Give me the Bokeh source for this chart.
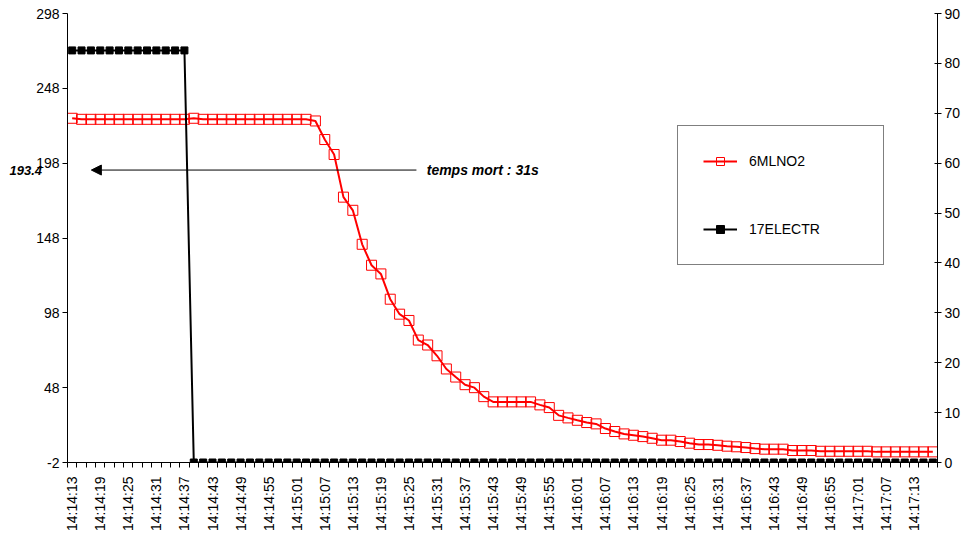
import math
from bokeh.plotting import figure
from bokeh.models import (Range1d, LinearAxis, FixedTicker, Legend, LegendItem,
                          Label, Arrow, NormalHead)
from bokeh.embed import file_html
from bokeh.resources import INLINE

# ---------------- data ----------------
times = [
    "14:14:13", "14:14:15", "14:14:17", "14:14:19", "14:14:21", "14:14:23",
    "14:14:25", "14:14:27", "14:14:29", "14:14:31", "14:14:33", "14:14:35",
    "14:14:37", "14:14:39", "14:14:41", "14:14:43", "14:14:45", "14:14:47",
    "14:14:49", "14:14:51", "14:14:53", "14:14:55", "14:14:57", "14:14:59",
    "14:15:01", "14:15:03", "14:15:05", "14:15:07", "14:15:09", "14:15:11",
    "14:15:13", "14:15:15", "14:15:17", "14:15:19", "14:15:21", "14:15:23",
    "14:15:25", "14:15:27", "14:15:29", "14:15:31", "14:15:33", "14:15:35",
    "14:15:37", "14:15:39", "14:15:41", "14:15:43", "14:15:45", "14:15:47",
    "14:15:49", "14:15:51", "14:15:53", "14:15:55", "14:15:57", "14:15:59",
    "14:16:01", "14:16:03", "14:16:05", "14:16:07", "14:16:09", "14:16:11",
    "14:16:13", "14:16:15", "14:16:17", "14:16:19", "14:16:21", "14:16:23",
    "14:16:25", "14:16:27", "14:16:29", "14:16:31", "14:16:33", "14:16:35",
    "14:16:37", "14:16:39", "14:16:41", "14:16:43", "14:16:45", "14:16:47",
    "14:16:49", "14:16:51", "14:16:53", "14:16:55", "14:16:57", "14:16:59",
    "14:17:01", "14:17:03", "14:17:05", "14:17:07", "14:17:09", "14:17:11",
    "14:17:13", "14:17:15", "14:17:17",
]

no2 = [
    228.0, 227.3, 227.3, 227.3, 227.3, 227.3, 227.3, 227.3, 227.3, 227.3,
    227.3, 227.3, 227.3, 228.0, 227.3, 227.3, 227.3, 227.3, 227.3, 227.3,
    227.3, 227.3, 227.3, 227.3, 227.3, 227.3, 226.2, 213.8, 203.8, 175.3,
    166.5, 143.8, 129.8, 124.0, 107.1, 97.1, 92.9, 79.8, 76.5, 69.3,
    60.5, 55.1, 50.0, 48.0, 42.0, 38.5, 38.5, 38.5, 38.5, 38.5,
    36.5, 34.7, 29.5, 27.8, 26.2, 24.7, 23.8, 20.7, 18.7, 17.1,
    16.2, 15.3, 14.2, 12.9, 12.9, 12.0, 10.9, 10.0, 10.0, 9.5,
    8.9, 8.5, 8.0, 7.3, 6.9, 6.9, 6.9, 6.0, 6.0, 6.0,
    5.5, 5.5, 5.5, 5.5, 5.5, 5.5, 5.1, 5.1, 5.1, 5.1,
    5.1, 5.1, 5.1,
]

electr = [
    82.6, 82.6, 82.6, 82.6, 82.6, 82.6, 82.6, 82.6, 82.6, 82.6,
    82.6, 82.6, 82.6, 0, 0, 0, 0, 0, 0, 0,
    0, 0, 0, 0, 0, 0, 0, 0, 0, 0,
    0, 0, 0, 0, 0, 0, 0, 0, 0, 0,
    0, 0, 0, 0, 0, 0, 0, 0, 0, 0,
    0, 0, 0, 0, 0, 0, 0, 0, 0, 0,
    0, 0, 0, 0, 0, 0, 0, 0, 0, 0,
    0, 0, 0, 0, 0, 0, 0, 0, 0, 0,
    0, 0, 0, 0, 0, 0, 0, 0, 0, 0,
    0, 0, 0,
]

left_ticks = [-2, 48, 98, 148, 198, 248, 298]
right_ticks = [0, 10, 20, 30, 40, 50, 60, 70, 80, 90]
label_every = 3

dead_level = 193.4
dead_level_text = "193.4"
dead_text = "temps mort : 31s"
arrow_from = 37.3   # category position where the arrow starts
arrow_to = 2.55     # category position of the arrow tip
dead_text_pos = 38.4
dead_level_text_pos = -6.2

FONT = "Liberation Sans"

# positions at the centre of each category slot
xs = [i + 0.5 for i in range(len(times))]

p = figure(width=971, height=533, output_backend="svg", toolbar_location=None,
           x_range=Range1d(0, len(times)), y_range=Range1d(left_ticks[0], left_ticks[-1]),
           min_border_left=66, min_border_right=34, min_border_top=13,
           min_border_bottom=70)
p.extra_y_ranges = {"right": Range1d(right_ticks[0], right_ticks[-1])}
p.outline_line_color = None
p.xgrid.visible = False
p.ygrid.visible = False
p.background_fill_color = "white"
p.border_fill_color = "white"

# x axis
xa = p.xaxis[0]
lab_idx = list(range(0, len(times), label_every))
xa.ticker = FixedTicker(ticks=[xs[i] for i in lab_idx],
                        minor_ticks=list(range(0, len(times) + 1)))
xa.major_label_overrides = {xs[i]: times[i] for i in lab_idx}
xa.major_label_orientation = math.pi / 2
xa.major_tick_out = 0
xa.major_tick_in = 0
xa.minor_tick_out = 5
xa.minor_tick_in = 0
xa.major_label_standoff = 9
xa.axis_line_color = "black"
xa.minor_tick_line_color = "black"
xa.major_label_text_font = FONT
xa.major_label_text_font_size = "14px"
xa.major_label_text_color = "black"

# left axis
ya = p.yaxis[0]
ya.ticker = FixedTicker(ticks=left_ticks, minor_ticks=[])
ya.major_label_overrides = {t: str(t) for t in left_ticks}
ya.major_tick_out = 5
ya.major_tick_in = 0
ya.minor_tick_out = 0
ya.major_label_standoff = 3
ya.axis_line_color = "black"
ya.major_tick_line_color = "black"
ya.major_label_text_font = FONT
ya.major_label_text_font_size = "14px"
ya.major_label_text_color = "black"

# right axis
ra = LinearAxis(y_range_name="right",
                ticker=FixedTicker(ticks=right_ticks, minor_ticks=[]))
ra.major_tick_out = 4
ra.major_tick_in = 3
ra.minor_tick_out = 0
ra.major_label_standoff = 3
ra.axis_line_color = "black"
ra.major_tick_line_color = "black"
ra.major_label_text_font = FONT
ra.major_label_text_font_size = "14px"
ra.major_label_text_color = "black"
p.add_layout(ra, "right")

# series
r_line = p.line(xs, no2, line_color="#FF0000", line_width=2)
r_pts = p.scatter(xs, no2, marker="square", size=10, line_color="#FF0000",
                  fill_color=None, line_width=1)
b_line = p.line(xs, electr, y_range_name="right", line_color="black", line_width=2)
b_pts = p.scatter(xs, electr, y_range_name="right", marker="square", size=7,
                  line_color="black", fill_color="black")

# annotation: dead time
p.add_layout(Arrow(x_start=arrow_from, y_start=dead_level, x_end=arrow_to,
                   y_end=dead_level, line_color="black", line_width=1,
                   end=NormalHead(size=10, fill_color="black", line_color="black")))
p.add_layout(Label(x=dead_text_pos, y=dead_level, text=dead_text,
                   text_font=FONT, text_font_size="14px",
                   text_font_style="bold italic", text_baseline="middle",
                   text_color="black"))
p.add_layout(Label(x=dead_level_text_pos, y=dead_level, text=dead_level_text,
                   text_font=FONT, text_font_size="13px",
                   text_font_style="bold italic", text_baseline="middle",
                   text_color="black"), "left")

# legend
legend = Legend(items=[LegendItem(label="6MLNO2", renderers=[r_line, r_pts]),
                       LegendItem(label="17ELECTR", renderers=[b_line, b_pts])],
                location=(610, 197), margin=0, padding=25, spacing=48,
                glyph_width=34, glyph_height=20, label_height=20,
                label_width=109, label_standoff=12,
                label_text_font=FONT, label_text_font_size="14px",
                label_text_color="black",
                border_line_color="black", border_line_width=1,
                background_fill_color="white", background_fill_alpha=1)
p.add_layout(legend)

open("out.html", "w").write(file_html(p, INLINE))
